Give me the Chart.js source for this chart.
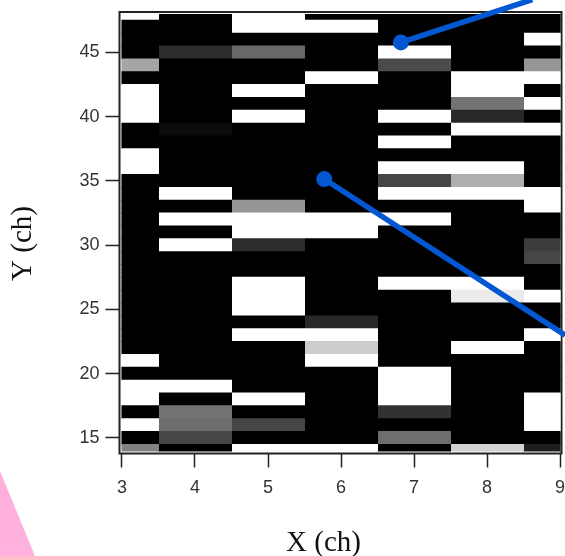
<!DOCTYPE html>
<html>
<head>
<meta charset="utf-8">
<script src="https://cdn.jsdelivr.net/npm/chart.js@4"></script>
<style>
html, body { margin: 0; padding: 0; background: #fff; }
#wrap { position: relative; width: 565px; height: 556px; overflow: hidden; }
#corner { position: absolute; left: 0; top: 0; width: 565px; height: 556px;
  background: linear-gradient(#ff9acd, #ffb2de); clip-path: polygon(0 471px, 35px 556px, 0 556px); }
canvas { position: absolute; left: 0; top: 0; }
</style>
</head>
<body>
<div id="wrap">
  <div id="corner"></div>
  <canvas id="map_chart" width="565" height="556"></canvas>
</div>
<script>
// row channels, top of the map first
var rows = [48, 47, 46, 45, 44, 43, 42, 41, 40, 39, 38, 37, 36, 35, 34, 33, 32, 31,
            30, 29, 28, 27, 26, 25, 24, 23, 22, 21, 20, 19, 18, 17, 16, 15, 14];

// x edges of the seven columns (first and last are half width)
var colEdges = [3, 3.5, 4.5, 5.5, 6.5, 7.5, 8.5, 9];

// grey level of each cell, same order as rows
var col3 = [255, 0, 0, 0, 165, 0, 255, 255, 255, 0, 0, 255, 255, 0, 0, 0, 0, 0,
            0, 0, 0, 0, 0, 0, 0, 0, 0, 255, 0, 255, 255, 0, 255, 0, 130];
var col4 = [0, 0, 0, 45, 0, 0, 0, 0, 0, 12, 0, 0, 0, 0, 255, 0, 255, 0,
            255, 0, 0, 0, 0, 0, 0, 0, 0, 0, 0, 255, 0, 115, 110, 70, 0];
var col5 = [255, 255, 0, 105, 0, 0, 255, 0, 255, 0, 0, 0, 0, 0, 0, 150, 255, 255,
            45, 0, 0, 255, 255, 255, 0, 255, 0, 0, 0, 0, 255, 0, 70, 0, 255];
var col6 = [0, 255, 0, 0, 0, 255, 0, 0, 0, 0, 0, 0, 0, 0, 0, 0, 255, 255,
            0, 0, 0, 0, 0, 0, 40, 255, 205, 255, 0, 0, 0, 0, 0, 0, 255];
var col7 = [0, 0, 0, 255, 75, 0, 0, 0, 255, 0, 255, 0, 255, 70, 255, 0, 255, 0,
            0, 0, 0, 255, 0, 0, 0, 0, 0, 0, 255, 255, 255, 50, 0, 110, 0];
var col8 = [0, 0, 0, 0, 0, 255, 255, 115, 40, 255, 0, 0, 255, 175, 255, 0, 0, 0,
            0, 0, 0, 255, 235, 0, 0, 0, 255, 0, 0, 0, 0, 0, 0, 0, 210];
var col9 = [0, 0, 255, 0, 150, 255, 0, 255, 0, 255, 0, 0, 0, 0, 255, 255, 0, 0,
            60, 70, 0, 0, 255, 0, 0, 255, 0, 0, 0, 0, 255, 255, 255, 0, 30];
var columns = [col3, col4, col5, col6, col7, col8, col9];

var xTicks = [3, 4, 5, 6, 7, 8, 9];
var yTicks = [15, 20, 25, 30, 35, 40, 45];

// blue pointers, marker end first
var pointerA = [{ x: 6.82, y: 45.78 }, { x: 8.62, y: 49.12 }];
var pointerB = [{ x: 5.77, y: 35.15 }, { x: 9.07, y: 23.0 }];

var xTitle = "X (ch)";
var yTitle = "Y (ch)";

var BLUE = "#0358d2";
var INK = "#222222";

function buildCellDatasets() {
    return columns.map(function (greys, c) {
        return {
            type: 'bar',
            indexAxis: 'y',
            order: 2,
            grouped: false,
            barPercentage: 1,
            categoryPercentage: 1,
            borderWidth: 0,
            inflateAmount: 0.5, // hides hairlines between neighbouring cells
            clip: { left: 0, right: 0, top: -2, bottom: -2 },
            data: rows.map(function (row) {
                return { x: [colEdges[c], colEdges[c + 1]], y: row };
            }),
            backgroundColor: greys.map(function (g) {
                return "rgb(" + g + "," + g + "," + g + ")";
            })
        };
    });
}

function buildPointer(points) {
    return {
        type: 'line',
        order: 1,
        data: points,
        clip: false,
        borderColor: BLUE,
        borderWidth: 5.5,
        backgroundColor: BLUE,
        pointBackgroundColor: BLUE,
        pointBorderWidth: 0,
        pointRadius: [8, 0],
        tension: 0
    };
}

// box round the map, and the axis titles: they sit off-centre in the original
var framePlugin = {
    id: 'frame',
    beforeDatasetsDraw: function (chart) {
        var a = chart.chartArea, ctx = chart.ctx;
        ctx.save();
        ctx.strokeStyle = INK;
        ctx.lineWidth = 2;
        ctx.strokeRect(a.left, a.top, a.right - a.left, a.bottom - a.top);
        ctx.fillStyle = "#111111";
        ctx.font = "29px 'Liberation Serif'";
        ctx.textAlign = "center";
        ctx.textBaseline = "alphabetic";
        ctx.fillText(xTitle, 323.5, 550.5);
        ctx.translate(31, 243.5);
        ctx.rotate(-Math.PI / 2);
        ctx.fillText(yTitle, 0, 0);
        ctx.restore();
    }
};

function renderMap() {
    var context = document.getElementById("map_chart").getContext('2d');
    new Chart(context, {
        data: {
            datasets: buildCellDatasets().concat([buildPointer(pointerA), buildPointer(pointerB)])
        },
        plugins: [framePlugin],
        options: {
            responsive: false,
            animation: false,
            layout: { autoPadding: false, padding: { left: 0, right: 3.5, top: 12, bottom: 0 } },
            plugins: { legend: { display: false }, tooltip: { enabled: false } },
            scales: {
                x: {
                    type: 'linear',
                    offset: false,
                    min: 2.966,
                    max: 9.02,
                    afterBuildTicks: function (scale) {
                        scale.ticks = xTicks.map(function (v) { return { value: v }; });
                    },
                    afterFit: function (scale) {
                        scale.height = 102.5;
                        scale.paddingLeft = 0;
                        scale.paddingRight = 0;
                    },
                    border: { display: false },
                    grid: { offset: false, drawOnChartArea: false, tickLength: 14, tickColor: INK, tickWidth: 1.5 },
                    ticks: {
                        autoSkip: false,
                        maxRotation: 0,
                        padding: 10,
                        color: "#333333",
                        font: { family: "'Liberation Sans'", size: 18 }
                    }
                },
                y: {
                    type: 'linear',
                    offset: false,
                    min: 13.79,
                    max: 48.15,
                    afterBuildTicks: function (scale) {
                        scale.ticks = yTicks.map(function (v) { return { value: v }; });
                    },
                    afterFit: function (scale) {
                        scale.width = 119.5;
                        scale.paddingTop = 0;
                        scale.paddingBottom = 0;
                    },
                    border: { display: false },
                    grid: { offset: false, drawOnChartArea: false, tickLength: 14, tickColor: INK, tickWidth: 1.5 },
                    ticks: {
                        autoSkip: false,
                        padding: 6,
                        color: "#333333",
                        font: { family: "'Liberation Sans'", size: 18 }
                    }
                }
            }
        }
    });
}

renderMap();
</script>
</body>
</html>
